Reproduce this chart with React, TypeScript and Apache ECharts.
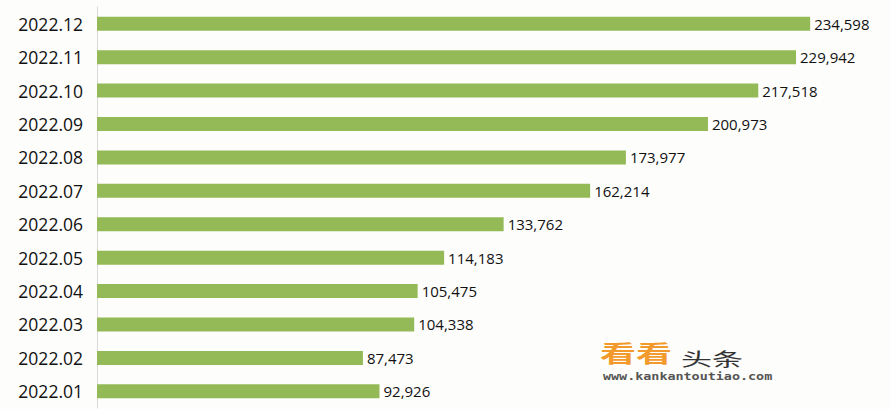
import React, { useEffect, useRef } from "react";
import * as echarts from "echarts";

const categories = [
  "2022.01", "2022.02", "2022.03", "2022.04", "2022.05", "2022.06",
  "2022.07", "2022.08", "2022.09", "2022.10", "2022.11", "2022.12",
];
const values = [
  92926, 87473, 104338, 105475, 114183, 133762,
  162214, 173977, 200973, 217518, 229942, 234598,
];

export default function App() {
  const ref = useRef<HTMLDivElement>(null);
  useEffect(() => {
    if (!ref.current) return;
    const chart = echarts.init(ref.current, null, { renderer: "svg" });
    chart.setOption({
      animation: false,
      backgroundColor: "#fdfdfb",
      grid: { left: 97, right: 34, top: 7, bottom: 1 },
      xAxis: {
        type: "value",
        min: 0,
        max: 250000,
        show: false,
      },
      yAxis: {
        type: "category",
        data: categories,
        axisLine: { show: true, lineStyle: { color: "#d9d9d9", width: 1 } },
        axisTick: { show: false },
        axisLabel: {
          color: "#111111",
          fontSize: 17.5,
          fontFamily: "Open Sans",
          margin: 14,
        },
      },
      series: [
        {
          type: "bar",
          data: values,
          barWidth: 14,
          itemStyle: { color: "#93ba56" },
          label: {
            show: true,
            position: "right",
            distance: 4,
            color: "#111111",
            fontSize: 15,
            fontFamily: "Open Sans",
            formatter: (p: any) => p.value.toLocaleString("en-US"),
          },
        },
      ],
      graphic: [
        {
          type: "text",
          x: 600,
          y: 341,
          scaleY: 0.62,
          style: {
            text: "看看",
            fill: "#f39a2c",
            font: "bold 36px 'Noto Sans CJK SC'",
            verticalAlign: "top",
          },
        },
        {
          type: "text",
          x: 681,
          y: 348,
          scaleY: 0.6,
          style: {
            text: "头条",
            fill: "#333333",
            font: "31px 'Noto Sans CJK SC'",
            verticalAlign: "top",
          },
        },
        {
          type: "text",
          x: 603,
          y: 372,
          scaleY: 0.75,
          style: {
            text: "www.kankantoutiao.com",
            fill: "#555555",
            font: "bold 13.4px 'DejaVu Sans Mono'",
            verticalAlign: "top",
          },
        },
      ],
    });
    return () => chart.dispose();
  }, []);
  return (
    <div
      ref={ref}
      style={{ position: "fixed", left: 0, top: 0, width: 891, height: 409 }}
    />
  );
}
